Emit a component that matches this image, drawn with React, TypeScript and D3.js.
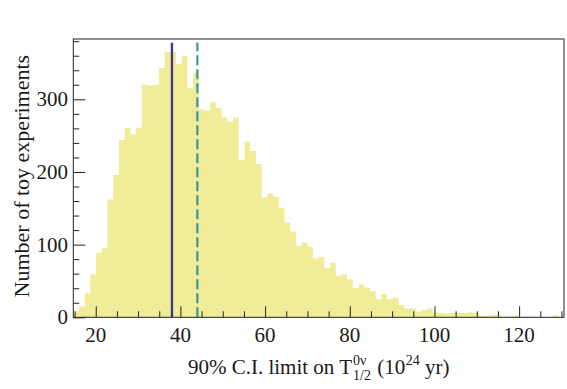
import React, { useEffect, useRef } from "react";
import * as d3 from "d3";

// histogram counts, 86 equal bins spanning the x range
const counts = [
  8, 15, 33, 59, 89, 95, 162, 196, 244, 261,
  252, 261, 320, 319, 320, 343, 365, 365, 349, 360,
  316, 337, 286, 284, 296, 288, 275, 269, 275, 216,
  242, 229, 211, 165, 170, 166, 150, 130, 118, 98,
  103, 97, 81, 83, 68, 75, 57, 59, 52, 40,
  45, 41, 36, 25, 32, 25, 27, 17, 12, 12,
  8, 10, 12, 7, 6, 5, 6, 6, 6, 7,
  6, 2, 2, 3, 4, 1, 1, 2, 0, 1,
  1, 0, 0, 0, 2, 0,
];
const xRange = [14.7, 130.6];
const yRange = [0, 383];
const xTicks = [20, 40, 60, 80, 100, 120];
const yTicks = [0, 100, 200, 300];
const medianLimit = 38;
const meanLimit = 44;

const FONT = "Liberation Serif";
const INK = "#1a1a1a";

const App = () => {
  const svgRef = useRef<SVGSVGElement>(null);

  useEffect(() => {
    const W = 567;
    const H = 389;
    const margin = { top: 39, right: 3, bottom: 71.7, left: 73.3 };
    const width = W - margin.left - margin.right;
    const height = H - margin.top - margin.bottom;

    const svg = d3.select(svgRef.current);
    svg.selectAll("*").remove();
    svg.attr("width", W).attr("height", H);

    const chart = svg
      .append("g")
      .attr("transform", `translate(${margin.left},${margin.top})`);

    const x = d3.scaleLinear().domain(xRange).range([0, width]);
    const y = d3.scaleLinear().domain(yRange).range([height, 0]);

    const binW = (xRange[1] - xRange[0]) / counts.length;
    const steps = counts.map((c, i) => ({ x: xRange[0] + i * binW, c }));
    steps.push({ x: xRange[1], c: counts[counts.length - 1] });

    const area = d3
      .area<{ x: number; c: number }>()
      .x(d => x(d.x))
      .y0(y(0))
      .y1(d => y(d.c))
      .curve(d3.curveStepAfter);

    chart
      .append("path")
      .datum(steps)
      .attr("fill", "#f1ec97")
      .attr("d", area);

    // limit lines
    chart
      .append("line")
      .attr("x1", x(medianLimit))
      .attr("x2", x(medianLimit))
      .attr("y1", y(0))
      .attr("y2", y(378))
      .attr("stroke", "#3f3a8e")
      .attr("stroke-width", 2.4);

    chart
      .append("line")
      .attr("x1", x(meanLimit))
      .attr("x2", x(meanLimit))
      .attr("y1", y(0))
      .attr("y2", y(378))
      .attr("stroke", "#3a9795")
      .attr("stroke-width", 2.2)
      .attr("stroke-dasharray", "10,4");

    // tick marks, drawn inside the frame
    const xMinor = d3.range(15, 131, 5).filter(v => v % 20 !== 0);
    const yMinor = d3.range(20, 381, 20).filter(v => v % 100 !== 0);
    const noLabel = () => "";

    chart
      .append("g")
      .attr("transform", `translate(0,${height})`)
      .call(d3.axisBottom(x).tickValues(xTicks).tickSize(-11).tickFormat(noLabel));
    chart
      .append("g")
      .attr("transform", `translate(0,${height})`)
      .call(d3.axisBottom(x).tickValues(xMinor).tickSize(-6).tickFormat(noLabel));
    chart
      .append("g")
      .call(d3.axisLeft(y).tickValues(yTicks).tickSize(-12).tickFormat(noLabel));
    chart
      .append("g")
      .call(d3.axisLeft(y).tickValues(yMinor).tickSize(-6).tickFormat(noLabel));

    chart.selectAll(".domain").remove();
    chart.selectAll(".tick text").remove();
    chart.selectAll(".tick line").attr("stroke", "#222").attr("stroke-width", 1);

    // tick labels
    chart
      .selectAll(".xlab")
      .data(xTicks)
      .enter()
      .append("text")
      .attr("x", d => x(d))
      .attr("y", height + 24.2)
      .attr("text-anchor", "middle")
      .attr("font-family", FONT)
      .attr("font-size", 21)
      .attr("fill", INK)
      .text(d => d);

    chart
      .selectAll(".ylab")
      .data(yTicks)
      .enter()
      .append("text")
      .attr("x", -5.3)
      .attr("y", d => y(d) + 7)
      .attr("text-anchor", "end")
      .attr("font-family", FONT)
      .attr("font-size", 21)
      .attr("fill", INK)
      .text(d => d);

    // frame
    chart
      .append("rect")
      .attr("x", 0)
      .attr("y", 0)
      .attr("width", width)
      .attr("height", height)
      .attr("fill", "none")
      .attr("stroke", "#222")
      .attr("stroke-width", 1);

    // y title
    svg
      .append("text")
      .attr("transform", `translate(28.5,${margin.top + height / 2 - 2}) rotate(-90)`)
      .attr("text-anchor", "middle")
      .attr("font-family", FONT)
      .attr("font-size", 22)
      .attr("fill", INK)
      .text("Number of toy experiments");

    // x title with stacked sub/superscripts
    const base = 374;
    const title = svg
      .append("g")
      .attr("font-family", FONT)
      .attr("fill", INK)
      .style("white-space", "pre");
    const part = (txt: string, px: number, size: number, yy: number) => {
      const t = title
        .append("text")
        .attr("x", px)
        .attr("y", yy)
        .attr("font-size", size)
        .attr("xml:space", "preserve")
        .text(txt);
      return (t.node() as SVGTextElement).getComputedTextLength();
    };
    let cx = 0;
    cx += part("90% C.I. limit on T", cx, 21, base);
    const wSup = part("0\u03bd", cx + 1, 14, base - 9);
    const wSub = part("1/2", cx + 1, 14, base + 6);
    cx += Math.max(wSup, wSub) + 2;
    cx += part(" (10", cx, 21, base);
    cx += part("24", cx + 0.5, 14, base - 9) + 0.5;
    cx += part(" yr)", cx, 21, base);
    title.attr("transform", `translate(${margin.left + width / 2 - cx / 2},0)`);
  }, []);

  return (
    <svg
      ref={svgRef}
      style={{ position: "absolute", left: 0, top: 0, background: "#fff" }}
    ></svg>
  );
};

export default App;
